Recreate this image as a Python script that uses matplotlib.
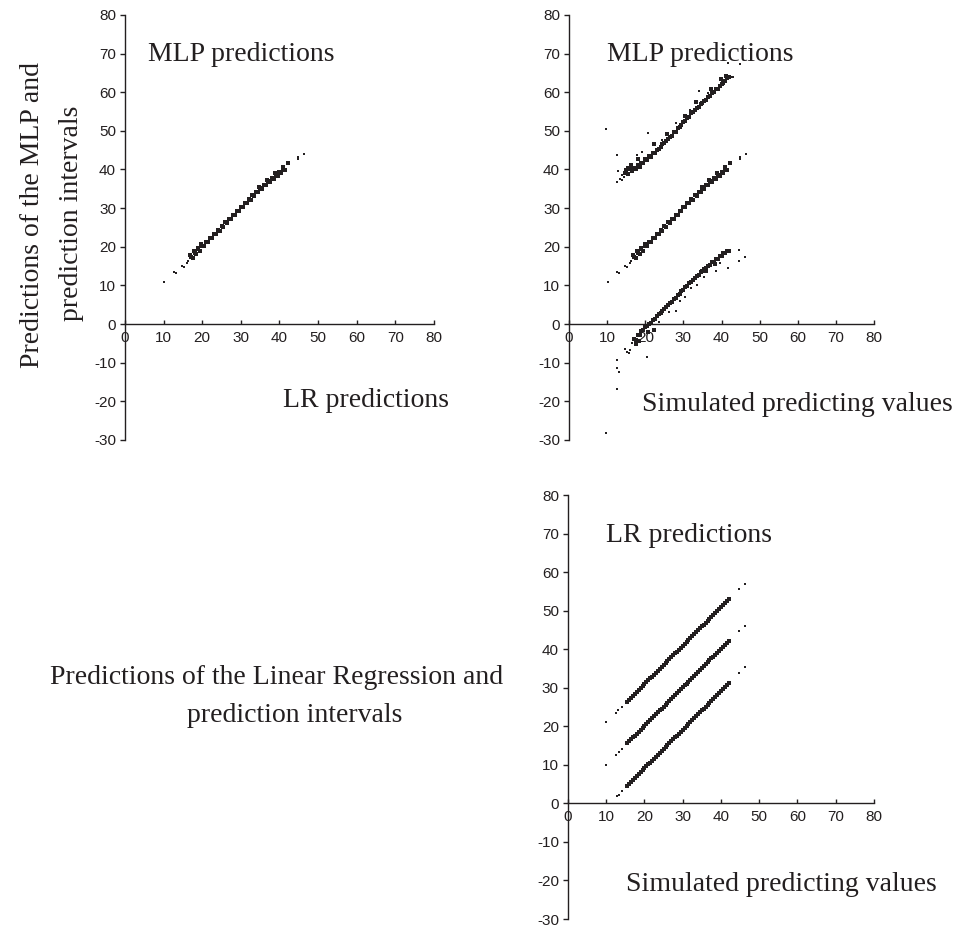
import matplotlib
matplotlib.use("Agg")
import matplotlib.pyplot as plt

plt.rcParams['axes.unicode_minus'] = False

# ---- data ----
# MLP predictions: dense band and the scattered points around it
mlp_x = [17.0, 17.5, 18.0, 18.5, 19.0, 19.5, 20.0, 20.5, 21.0, 21.5, 22.0, 22.5, 23.0,
         23.5, 24.0, 24.5, 25.0, 25.5, 26.0, 26.5, 27.0, 27.5, 28.0, 28.5, 29.0, 29.5,
         30.0, 30.5, 31.0, 31.5, 32.0, 32.5, 33.0, 33.5, 34.0, 34.5, 35.0, 35.5, 36.0,
         36.5, 37.0, 37.5, 38.0, 38.5, 39.0, 39.5, 40.0, 40.5, 41.0, 41.5, 42.3,
         16.8, 17.8, 18.8, 19.8, 34.8, 36.8, 38.8, 40.8]
mlp_y = [17.3, 17.2, 18.4, 18.1, 19.3, 19.0, 20.2, 20.1, 21.2, 21.2, 22.3, 22.2, 23.3,
         23.2, 24.3, 24.2, 25.3, 25.2, 26.3, 26.2, 27.3, 27.2, 28.3, 28.2, 29.3, 29.2,
         30.3, 30.2, 31.3, 31.2, 32.3, 32.2, 33.3, 33.2, 34.3, 34.1, 35.2, 35.0, 36.1,
         35.9, 37.0, 36.8, 37.9, 37.6, 38.7, 38.4, 39.4, 39.1, 40.2, 39.9, 41.6,
         17.8, 18.9, 19.6, 20.6, 35.5, 37.4, 39.2, 40.6]
mlp_stray_x = [10.2, 12.7, 13.1, 14.7, 15.2, 16.0, 16.3, 44.8, 44.9, 46.4, 41.9, 40.2]
mlp_stray_y = [10.9, 13.5, 13.3, 15.1, 14.8, 15.7, 16.4, 43.3, 42.6, 44.1, 41.3, 39.5]

# MLP upper prediction interval
mlp_up_x = [14.6, 15.0, 15.5, 16.0, 16.5, 17.0, 17.5, 18.0, 18.5, 19.0, 19.5, 20.0, 20.5,
            21.0, 21.5, 22.0, 22.5, 23.0, 23.5, 24.0, 24.5, 25.0, 25.5, 26.0, 26.5, 27.0,
            27.5, 28.0, 28.5, 29.0, 29.5, 30.0, 30.5, 31.0, 31.5, 32.0, 32.5, 33.0, 33.5,
            34.0, 34.5, 35.0, 35.5, 36.0, 36.5, 37.0, 37.5, 38.0, 38.5, 39.0, 39.5, 40.0,
            40.5, 41.0, 41.5, 42.0,
            15.5, 18.2, 22.3, 25.8, 30.3, 33.2, 37.2, 39.8, 16.2, 41.2]
mlp_up_y = [39.0, 39.8, 38.8, 40.0, 39.6, 40.5, 40.0, 41.1, 40.7, 41.8, 41.6, 42.6, 42.5,
            43.4, 43.3, 44.2, 44.3, 45.0, 45.4, 45.9, 46.5, 46.8, 47.5, 47.8, 48.4, 48.7,
            49.6, 49.8, 50.7, 50.9, 51.6, 52.2, 52.5, 53.3, 53.5, 54.5, 54.8, 55.3, 55.9,
            56.1, 56.9, 57.1, 57.8, 58.1, 58.8, 59.1, 59.7, 60.0, 60.7, 60.9, 61.6, 62.0,
            62.4, 62.9, 63.6, 63.9,
            40.5, 42.7, 46.5, 49.3, 53.9, 57.4, 60.8, 63.4, 41.2, 64.1]
mlp_up_stray_x = [9.6, 12.5, 12.6, 12.9, 13.3, 14.0, 13.8, 14.3, 20.6, 28.0, 34.0, 17.8,
                  19.2, 41.7, 44.9, 42.5, 43.0, 24.5, 31.8, 36.5]
mlp_up_stray_y = [50.4, 43.7, 36.8, 39.6, 37.5, 38.5, 37.4, 38.1, 49.4, 52.0, 60.4, 43.8,
                  44.5, 67.5, 67.3, 64.0, 64.0, 47.6, 55.4, 59.9]

# MLP lower prediction interval
mlp_lo_x = [17.0, 17.5, 18.0, 18.5, 19.0, 19.5, 20.0, 20.5, 21.0, 21.5, 22.0, 22.5, 23.0,
            23.5, 24.0, 24.5, 25.0, 25.5, 26.0, 26.5, 27.0, 27.5, 28.0, 28.5, 29.0, 29.5,
            30.0, 30.5, 31.0, 31.5, 32.0, 32.5, 33.0, 33.5, 34.0, 34.5, 35.0, 35.5, 36.0,
            36.5, 37.0, 37.5, 38.0, 38.5, 39.0, 39.5, 40.0, 40.5, 41.0, 41.5, 42.0,
            18.3, 17.6, 22.2, 20.8, 36.0, 38.2]
mlp_lo_y = [-4.0, -4.2, -2.9, -2.8, -1.9, -1.6, -0.8, -0.6, 0.1, 0.2, 1.1, 1.3, 2.0,
            2.5, 2.9, 3.5, 3.8, 4.5, 4.8, 5.5, 5.8, 6.5, 6.8, 7.5, 7.8, 8.6, 8.8,
            9.6, 9.8, 10.6, 10.8, 11.5, 11.8, 12.5, 12.7, 13.4, 13.6, 14.3, 14.5, 15.1,
            15.3, 16.0, 16.1, 16.8, 16.9, 17.5, 17.6, 18.3, 18.3, 18.9, 19.0,
            -4.5, -5.2, -1.5, -2.0, 13.8, 15.6]
mlp_lo_stray_x = [9.6, 12.5, 12.6, 13.0, 12.7, 14.7, 15.2, 15.6, 15.9, 16.5, 16.8, 44.7,
                  44.7, 46.2, 20.5, 28.0, 38.6, 41.7, 30.5, 33.5, 23.5, 26.3, 29.2, 32.0,
                  35.4, 39.5]
mlp_lo_stray_y = [-28.3, -9.3, -11.3, -12.3, -16.9, -6.4, -7.3, -7.5, -6.6, -5.0, -4.2, 19.2,
                  16.4, 17.4, -8.5, 3.5, 13.6, 14.4, 7.0, 10.0, 0.6, 3.1, 5.9, 9.2,
                  12.3, 15.8]

# Linear regression predictions and intervals (simulated predicting values on x)
lr_x = [15.5, 16.0, 16.5, 17.0, 17.5, 18.0, 18.5, 19.0, 19.5, 20.0, 20.5, 21.0, 21.5,
        22.0, 22.5, 23.0, 23.5, 24.0, 24.5, 25.0, 25.5, 26.0, 26.5, 27.0, 27.5, 28.0,
        28.5, 29.0, 29.5, 30.0, 30.5, 31.0, 31.5, 32.0, 32.5, 33.0, 33.5, 34.0, 34.5,
        35.0, 35.5, 36.0, 36.5, 37.0, 37.5, 38.0, 38.5, 39.0, 39.5, 40.0, 40.5, 41.0,
        41.5, 42.0]
lr_up_y = [26.4, 26.9, 27.4, 27.9, 28.4, 28.9, 29.4, 29.9, 30.4, 30.9, 31.4, 31.9, 32.4,
           32.9, 33.4, 33.9, 34.4, 34.9, 35.4, 35.9, 36.4, 36.9, 37.4, 37.9, 38.4, 38.9,
           39.4, 39.9, 40.4, 40.9, 41.4, 41.9, 42.4, 42.9, 43.4, 43.9, 44.4, 44.9, 45.4,
           45.9, 46.4, 46.9, 47.4, 47.9, 48.4, 48.9, 49.4, 49.9, 50.4, 50.9, 51.4, 51.9,
           52.4, 52.9]
lr_mid_y = [15.6, 16.1, 16.6, 17.1, 17.6, 18.1, 18.6, 19.1, 19.6, 20.1, 20.6, 21.1, 21.6,
            22.1, 22.6, 23.1, 23.6, 24.1, 24.6, 25.1, 25.6, 26.1, 26.6, 27.1, 27.6, 28.1,
            28.6, 29.1, 29.6, 30.1, 30.6, 31.1, 31.6, 32.1, 32.6, 33.1, 33.6, 34.1, 34.6,
            35.1, 35.6, 36.1, 36.6, 37.1, 37.6, 38.1, 38.6, 39.1, 39.6, 40.1, 40.6, 41.1,
            41.6, 42.1]
lr_lo_y = [4.6, 5.1, 5.6, 6.1, 6.6, 7.1, 7.6, 8.1, 8.6, 9.1, 9.6, 10.1, 10.6,
           11.1, 11.6, 12.1, 12.6, 13.1, 13.6, 14.1, 14.6, 15.1, 15.6, 16.1, 16.6, 17.1,
           17.6, 18.1, 18.6, 19.1, 19.6, 20.1, 20.6, 21.1, 21.6, 22.1, 22.6, 23.1, 23.6,
           24.1, 24.6, 25.1, 25.6, 26.1, 26.6, 27.1, 27.6, 28.1, 28.6, 29.1, 29.6, 30.1,
           30.6, 31.2]
lr_stray_x = [10.0, 12.6, 13.2, 14.1, 44.8, 46.3,
              10.0, 12.6, 13.3, 14.1, 44.8, 46.3,
              12.8, 13.3, 14.1, 44.8, 46.3]
lr_stray_y = [21.0, 23.5, 24.1, 25.0, 55.5, 57.0,
              10.0, 12.6, 13.3, 14.1, 44.6, 46.1,
              1.8, 2.2, 3.1, 33.9, 35.3]

INK = '#231f20'
SERIF = 'Liberation Serif'
SANS = 'Liberation Sans'

fig = plt.figure(figsize=(9.57, 9.27), dpi=100)


def setup(ax):
    ax.set_xlim(0, 80)
    ax.set_ylim(-30, 80)
    ax.spines['top'].set_visible(False)
    ax.spines['right'].set_visible(False)
    ax.spines['bottom'].set_position(('data', 0))
    for s in ('left', 'bottom'):
        ax.spines[s].set_color(INK)
        ax.spines[s].set_linewidth(1.0)
    ax.set_xticks(range(0, 81, 10))
    ax.set_yticks(range(-30, 81, 10))
    ax.tick_params(axis='x', direction='in', length=3, width=1.0, color=INK,
                   labelsize=11, labelcolor=INK, pad=5)
    ax.tick_params(axis='y', direction='out', length=3.5, width=1.0, color=INK,
                   labelsize=11, labelcolor=INK, pad=3)
    for lab in ax.get_xticklabels() + ax.get_yticklabels():
        lab.set_fontfamily(SANS)
    ax.patch.set_visible(False)


def dots(ax, x, y, ms):
    ax.plot(x, y, 's', ms=ms, mew=0, color=INK, clip_on=False)


ax1 = fig.add_axes([0.1306, 0.5254, 0.3229, 0.4585])
setup(ax1)
dots(ax1, mlp_x, mlp_y, 3.0)
dots(ax1, mlp_stray_x, mlp_stray_y, 1.6)
ax1.text(6, 68, 'MLP predictions', fontsize=20, family=SERIF, color=INK)
ax1.text(41, -21.5, 'LR predictions', fontsize=20, family=SERIF, color=INK)

ax2 = fig.add_axes([0.5946, 0.5254, 0.3187, 0.4585])
setup(ax2)
dots(ax2, mlp_up_x, mlp_up_y, 3.2)
dots(ax2, mlp_up_stray_x, mlp_up_stray_y, 1.6)
dots(ax2, mlp_x, mlp_y, 3.0)
dots(ax2, mlp_stray_x, mlp_stray_y, 1.6)
dots(ax2, mlp_lo_x, mlp_lo_y, 3.2)
dots(ax2, mlp_lo_stray_x, mlp_lo_stray_y, 1.6)
ax2.text(10, 68, 'MLP predictions', fontsize=20, family=SERIF, color=INK)
ax2.text(19.2, -22.5, 'Simulated predicting values', fontsize=20, family=SERIF, color=INK)

ax3 = fig.add_axes([0.5935, 0.0086, 0.3197, 0.4574])
setup(ax3)
dots(ax3, lr_x, lr_up_y, 2.2)
dots(ax3, lr_x, lr_mid_y, 2.2)
dots(ax3, lr_x, lr_lo_y, 2.2)
dots(ax3, lr_stray_x, lr_stray_y, 1.6)
ax3.text(9.9, 67.9, 'LR predictions', fontsize=20, family=SERIF, color=INK)
ax3.text(15.2, -22.8, 'Simulated predicting values', fontsize=20, family=SERIF, color=INK)

# side labels
fig.text(33 / 957, 1 - 215 / 927, 'Predictions of the MLP and', rotation=90,
         ha='center', va='center', fontsize=20, family=SERIF, color=INK)
fig.text(72 / 957, 1 - 213 / 927, 'prediction intervals', rotation=90,
         ha='center', va='center', fontsize=20, family=SERIF, color=INK)
fig.text(277 / 957, 1 - 678 / 927, 'Predictions of the Linear Regression and',
         ha='center', va='center', fontsize=20, family=SERIF, color=INK)
fig.text(295 / 957, 1 - 716 / 927, 'prediction intervals',
         ha='center', va='center', fontsize=20, family=SERIF, color=INK)

fig.savefig('out.png', dpi=100)
